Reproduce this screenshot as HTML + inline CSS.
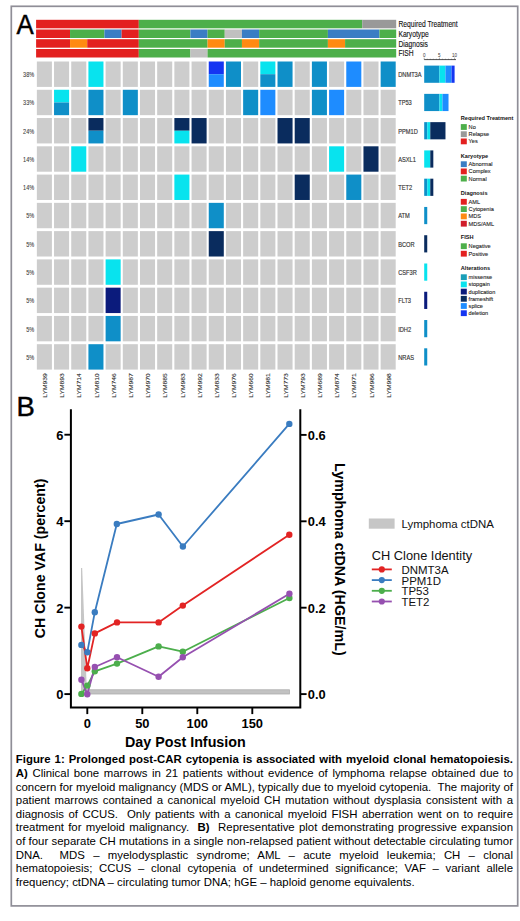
<!DOCTYPE html>
<html><head><meta charset="utf-8"><style>
html,body{margin:0;padding:0;background:#fff;}
body{width:520px;height:921px;position:relative;overflow:hidden;font-family:"Liberation Sans",sans-serif;}
svg{position:absolute;left:0;top:0;}
svg text{font-family:"Liberation Sans",sans-serif;}
.cl{position:absolute;left:15.8px;width:497px;font-size:11.4px;line-height:13px;color:#000;white-space:nowrap;}
</style></head><body>
<svg width="520" height="921" viewBox="0 0 520 921">
<rect x="11.3" y="6.3" width="506.4" height="899.6" fill="none" stroke="#8f8e97" stroke-width="1.7"/>
<text x="16.4" y="34.2" font-size="27.2" fill="#000" stroke="#000" stroke-width="0.45" transform="translate(16.4 0) scale(0.95 1) translate(-16.4 0)">A</text>
<rect x="36.1" y="19.8" width="102.7" height="8.5" fill="#e3201f"/>
<rect x="138.8" y="19.8" width="223.47" height="8.5" fill="#4daf4a"/>
<rect x="362.27" y="19.8" width="33.93" height="8.5" fill="#999999"/>
<text x="398.4" y="27.3" font-size="8.2" fill="#111" stroke="#111" stroke-width="0.12" transform="translate(398.4 0) scale(0.82 1) translate(-398.4 0)">Required Treatment</text>
<rect x="36.1" y="29.5" width="33.94" height="8.5" fill="#e3201f"/>
<rect x="70.04" y="29.5" width="34.38" height="8.5" fill="#4daf4a"/>
<rect x="104.42" y="29.5" width="17.19" height="8.5" fill="#3a7dc4"/>
<rect x="121.61" y="29.5" width="17.19" height="8.5" fill="#e3201f"/>
<rect x="138.8" y="29.5" width="51.57" height="8.5" fill="#4daf4a"/>
<rect x="190.37" y="29.5" width="17.19" height="8.5" fill="#3a7dc4"/>
<rect x="207.56" y="29.5" width="17.19" height="8.5" fill="#4daf4a"/>
<rect x="224.75" y="29.5" width="17.19" height="8.5" fill="#c0c0c0"/>
<rect x="241.94" y="29.5" width="17.19" height="8.5" fill="#3a7dc4"/>
<rect x="259.13" y="29.5" width="68.76" height="8.5" fill="#4daf4a"/>
<rect x="327.89" y="29.5" width="51.57" height="8.5" fill="#3a7dc4"/>
<rect x="379.46" y="29.5" width="16.74" height="8.5" fill="#4daf4a"/>
<text x="398.4" y="37" font-size="8.2" fill="#111" stroke="#111" stroke-width="0.12" transform="translate(398.4 0) scale(0.82 1) translate(-398.4 0)">Karyotype</text>
<rect x="36.1" y="39.2" width="33.94" height="8.5" fill="#e3201f"/>
<rect x="70.04" y="39.2" width="17.19" height="8.5" fill="#ff8a12"/>
<rect x="87.23" y="39.2" width="51.57" height="8.5" fill="#e3201f"/>
<rect x="138.8" y="39.2" width="68.76" height="8.5" fill="#4daf4a"/>
<rect x="207.56" y="39.2" width="17.19" height="8.5" fill="#ff8a12"/>
<rect x="224.75" y="39.2" width="17.19" height="8.5" fill="#4daf4a"/>
<rect x="241.94" y="39.2" width="17.19" height="8.5" fill="#ff8a12"/>
<rect x="259.13" y="39.2" width="68.76" height="8.5" fill="#4daf4a"/>
<rect x="327.89" y="39.2" width="17.19" height="8.5" fill="#ff8a12"/>
<rect x="345.08" y="39.2" width="51.12" height="8.5" fill="#4daf4a"/>
<text x="398.4" y="46.7" font-size="8.2" fill="#111" stroke="#111" stroke-width="0.12" transform="translate(398.4 0) scale(0.82 1) translate(-398.4 0)">Diagnosis</text>
<rect x="36.1" y="49" width="102.7" height="8.5" fill="#e3201f"/>
<rect x="138.8" y="49" width="51.57" height="8.5" fill="#4daf4a"/>
<rect x="190.37" y="49" width="17.19" height="8.5" fill="#c0c0c0"/>
<rect x="207.56" y="49" width="188.64" height="8.5" fill="#4daf4a"/>
<text x="398.4" y="56.5" font-size="8.2" fill="#111" stroke="#111" stroke-width="0.12" transform="translate(398.4 0) scale(0.82 1) translate(-398.4 0)">FISH</text>
<rect x="36.85" y="61.5" width="15.05" height="25.4" fill="#cdcdcd"/>
<rect x="54.04" y="61.5" width="15.05" height="25.4" fill="#cdcdcd"/>
<rect x="71.23" y="61.5" width="15.05" height="25.4" fill="#cdcdcd"/>
<rect x="88.42" y="61.5" width="15.05" height="25.4" fill="#08e3ee"/>
<rect x="105.61" y="61.5" width="15.05" height="25.4" fill="#cdcdcd"/>
<rect x="122.8" y="61.5" width="15.05" height="25.4" fill="#cdcdcd"/>
<rect x="139.99" y="61.5" width="15.05" height="25.4" fill="#cdcdcd"/>
<rect x="157.18" y="61.5" width="15.05" height="25.4" fill="#cdcdcd"/>
<rect x="174.37" y="61.5" width="15.05" height="25.4" fill="#cdcdcd"/>
<rect x="191.56" y="61.5" width="15.05" height="25.4" fill="#cdcdcd"/>
<rect x="208.75" y="61.5" width="15.05" height="12.7" fill="#1535f2"/>
<rect x="208.75" y="74.2" width="15.05" height="12.7" fill="#1e8cff"/>
<rect x="225.94" y="61.5" width="15.05" height="25.4" fill="#0f8fc8"/>
<rect x="243.13" y="61.5" width="15.05" height="25.4" fill="#cdcdcd"/>
<rect x="260.32" y="61.5" width="15.05" height="12.7" fill="#08e3ee"/>
<rect x="260.32" y="74.2" width="15.05" height="12.7" fill="#0f8fc8"/>
<rect x="277.51" y="61.5" width="15.05" height="25.4" fill="#0f8fc8"/>
<rect x="294.7" y="61.5" width="15.05" height="25.4" fill="#cdcdcd"/>
<rect x="311.89" y="61.5" width="15.05" height="25.4" fill="#0f8fc8"/>
<rect x="329.08" y="61.5" width="15.05" height="25.4" fill="#cdcdcd"/>
<rect x="346.27" y="61.5" width="15.05" height="25.4" fill="#1e8cff"/>
<rect x="363.46" y="61.5" width="15.05" height="25.4" fill="#cdcdcd"/>
<rect x="380.65" y="61.5" width="15.05" height="25.4" fill="#0f8fc8"/>
<text x="34.2" y="77.1" font-size="6.7" fill="#3a3a3a" stroke="#3a3a3a" stroke-width="0.08" text-anchor="end" transform="translate(34.2 0) scale(0.83 1) translate(-34.2 0)">38%</text>
<text x="398.2" y="77.1" font-size="6.7" fill="#333" stroke="#333" stroke-width="0.15" transform="translate(398.2 0) scale(0.85 1) translate(-398.2 0)">DNMT3A</text>
<rect x="424.2" y="65.6" width="15.2" height="17.2" fill="#0f8fc8"/>
<rect x="439.4" y="65.6" width="6.08" height="17.2" fill="#08e3ee"/>
<rect x="445.48" y="65.6" width="6.08" height="17.2" fill="#1e8cff"/>
<rect x="451.56" y="65.6" width="3.04" height="17.2" fill="#1535f2"/>
<rect x="36.85" y="89.77" width="15.05" height="25.4" fill="#cdcdcd"/>
<rect x="54.04" y="89.77" width="15.05" height="12.7" fill="#08e3ee"/>
<rect x="54.04" y="102.47" width="15.05" height="12.7" fill="#0f8fc8"/>
<rect x="71.23" y="89.77" width="15.05" height="25.4" fill="#cdcdcd"/>
<rect x="88.42" y="89.77" width="15.05" height="25.4" fill="#0f8fc8"/>
<rect x="105.61" y="89.77" width="15.05" height="25.4" fill="#cdcdcd"/>
<rect x="122.8" y="89.77" width="15.05" height="25.4" fill="#0f8fc8"/>
<rect x="139.99" y="89.77" width="15.05" height="25.4" fill="#cdcdcd"/>
<rect x="157.18" y="89.77" width="15.05" height="25.4" fill="#cdcdcd"/>
<rect x="174.37" y="89.77" width="15.05" height="25.4" fill="#cdcdcd"/>
<rect x="191.56" y="89.77" width="15.05" height="25.4" fill="#cdcdcd"/>
<rect x="208.75" y="89.77" width="15.05" height="25.4" fill="#cdcdcd"/>
<rect x="225.94" y="89.77" width="15.05" height="25.4" fill="#cdcdcd"/>
<rect x="243.13" y="89.77" width="15.05" height="25.4" fill="#0f8fc8"/>
<rect x="260.32" y="89.77" width="15.05" height="25.4" fill="#1e8cff"/>
<rect x="277.51" y="89.77" width="15.05" height="25.4" fill="#cdcdcd"/>
<rect x="294.7" y="89.77" width="15.05" height="25.4" fill="#cdcdcd"/>
<rect x="311.89" y="89.77" width="15.05" height="25.4" fill="#0f8fc8"/>
<rect x="329.08" y="89.77" width="15.05" height="25.4" fill="#1e8cff"/>
<rect x="346.27" y="89.77" width="15.05" height="25.4" fill="#cdcdcd"/>
<rect x="363.46" y="89.77" width="15.05" height="25.4" fill="#cdcdcd"/>
<rect x="380.65" y="89.77" width="15.05" height="25.4" fill="#cdcdcd"/>
<text x="34.2" y="105.37" font-size="6.7" fill="#3a3a3a" stroke="#3a3a3a" stroke-width="0.08" text-anchor="end" transform="translate(34.2 0) scale(0.83 1) translate(-34.2 0)">33%</text>
<text x="398.2" y="105.37" font-size="6.7" fill="#333" stroke="#333" stroke-width="0.15" transform="translate(398.2 0) scale(0.85 1) translate(-398.2 0)">TP53</text>
<rect x="424.2" y="93.87" width="15.2" height="17.2" fill="#0f8fc8"/>
<rect x="439.4" y="93.87" width="3.04" height="17.2" fill="#08e3ee"/>
<rect x="442.44" y="93.87" width="6.08" height="17.2" fill="#1e8cff"/>
<rect x="36.85" y="118.04" width="15.05" height="25.4" fill="#cdcdcd"/>
<rect x="54.04" y="118.04" width="15.05" height="25.4" fill="#cdcdcd"/>
<rect x="71.23" y="118.04" width="15.05" height="25.4" fill="#cdcdcd"/>
<rect x="88.42" y="118.04" width="15.05" height="12.7" fill="#0a2c5e"/>
<rect x="88.42" y="130.74" width="15.05" height="12.7" fill="#0f8fc8"/>
<rect x="105.61" y="118.04" width="15.05" height="25.4" fill="#cdcdcd"/>
<rect x="122.8" y="118.04" width="15.05" height="25.4" fill="#cdcdcd"/>
<rect x="139.99" y="118.04" width="15.05" height="25.4" fill="#cdcdcd"/>
<rect x="157.18" y="118.04" width="15.05" height="25.4" fill="#cdcdcd"/>
<rect x="174.37" y="118.04" width="15.05" height="12.7" fill="#0a2c5e"/>
<rect x="174.37" y="130.74" width="15.05" height="12.7" fill="#08e3ee"/>
<rect x="191.56" y="118.04" width="15.05" height="25.4" fill="#0a2c5e"/>
<rect x="208.75" y="118.04" width="15.05" height="25.4" fill="#cdcdcd"/>
<rect x="225.94" y="118.04" width="15.05" height="25.4" fill="#cdcdcd"/>
<rect x="243.13" y="118.04" width="15.05" height="25.4" fill="#cdcdcd"/>
<rect x="260.32" y="118.04" width="15.05" height="25.4" fill="#cdcdcd"/>
<rect x="277.51" y="118.04" width="15.05" height="25.4" fill="#0a2c5e"/>
<rect x="294.7" y="118.04" width="15.05" height="25.4" fill="#0a2c5e"/>
<rect x="311.89" y="118.04" width="15.05" height="25.4" fill="#cdcdcd"/>
<rect x="329.08" y="118.04" width="15.05" height="25.4" fill="#cdcdcd"/>
<rect x="346.27" y="118.04" width="15.05" height="25.4" fill="#cdcdcd"/>
<rect x="363.46" y="118.04" width="15.05" height="25.4" fill="#cdcdcd"/>
<rect x="380.65" y="118.04" width="15.05" height="25.4" fill="#cdcdcd"/>
<text x="34.2" y="133.64" font-size="6.7" fill="#3a3a3a" stroke="#3a3a3a" stroke-width="0.08" text-anchor="end" transform="translate(34.2 0) scale(0.83 1) translate(-34.2 0)">24%</text>
<text x="398.2" y="133.64" font-size="6.7" fill="#333" stroke="#333" stroke-width="0.15" transform="translate(398.2 0) scale(0.85 1) translate(-398.2 0)">PPM1D</text>
<rect x="424.2" y="122.14" width="3.04" height="17.2" fill="#0f8fc8"/>
<rect x="427.24" y="122.14" width="3.04" height="17.2" fill="#08e3ee"/>
<rect x="430.28" y="122.14" width="15.2" height="17.2" fill="#0a2c5e"/>
<rect x="36.85" y="146.31" width="15.05" height="25.4" fill="#cdcdcd"/>
<rect x="54.04" y="146.31" width="15.05" height="25.4" fill="#cdcdcd"/>
<rect x="71.23" y="146.31" width="15.05" height="25.4" fill="#08e3ee"/>
<rect x="88.42" y="146.31" width="15.05" height="25.4" fill="#cdcdcd"/>
<rect x="105.61" y="146.31" width="15.05" height="25.4" fill="#cdcdcd"/>
<rect x="122.8" y="146.31" width="15.05" height="25.4" fill="#cdcdcd"/>
<rect x="139.99" y="146.31" width="15.05" height="25.4" fill="#cdcdcd"/>
<rect x="157.18" y="146.31" width="15.05" height="25.4" fill="#cdcdcd"/>
<rect x="174.37" y="146.31" width="15.05" height="25.4" fill="#cdcdcd"/>
<rect x="191.56" y="146.31" width="15.05" height="25.4" fill="#cdcdcd"/>
<rect x="208.75" y="146.31" width="15.05" height="25.4" fill="#cdcdcd"/>
<rect x="225.94" y="146.31" width="15.05" height="25.4" fill="#cdcdcd"/>
<rect x="243.13" y="146.31" width="15.05" height="25.4" fill="#cdcdcd"/>
<rect x="260.32" y="146.31" width="15.05" height="25.4" fill="#cdcdcd"/>
<rect x="277.51" y="146.31" width="15.05" height="25.4" fill="#cdcdcd"/>
<rect x="294.7" y="146.31" width="15.05" height="25.4" fill="#cdcdcd"/>
<rect x="311.89" y="146.31" width="15.05" height="25.4" fill="#cdcdcd"/>
<rect x="329.08" y="146.31" width="15.05" height="25.4" fill="#08e3ee"/>
<rect x="346.27" y="146.31" width="15.05" height="25.4" fill="#cdcdcd"/>
<rect x="363.46" y="146.31" width="15.05" height="25.4" fill="#0a2c5e"/>
<rect x="380.65" y="146.31" width="15.05" height="25.4" fill="#cdcdcd"/>
<text x="34.2" y="161.91" font-size="6.7" fill="#3a3a3a" stroke="#3a3a3a" stroke-width="0.08" text-anchor="end" transform="translate(34.2 0) scale(0.83 1) translate(-34.2 0)">14%</text>
<text x="398.2" y="161.91" font-size="6.7" fill="#333" stroke="#333" stroke-width="0.15" transform="translate(398.2 0) scale(0.85 1) translate(-398.2 0)">ASXL1</text>
<rect x="424.2" y="150.41" width="6.08" height="17.2" fill="#08e3ee"/>
<rect x="430.28" y="150.41" width="3.04" height="17.2" fill="#0a2c5e"/>
<rect x="36.85" y="174.58" width="15.05" height="25.4" fill="#cdcdcd"/>
<rect x="54.04" y="174.58" width="15.05" height="25.4" fill="#cdcdcd"/>
<rect x="71.23" y="174.58" width="15.05" height="25.4" fill="#cdcdcd"/>
<rect x="88.42" y="174.58" width="15.05" height="25.4" fill="#cdcdcd"/>
<rect x="105.61" y="174.58" width="15.05" height="25.4" fill="#cdcdcd"/>
<rect x="122.8" y="174.58" width="15.05" height="25.4" fill="#cdcdcd"/>
<rect x="139.99" y="174.58" width="15.05" height="25.4" fill="#cdcdcd"/>
<rect x="157.18" y="174.58" width="15.05" height="25.4" fill="#cdcdcd"/>
<rect x="174.37" y="174.58" width="15.05" height="25.4" fill="#08e3ee"/>
<rect x="191.56" y="174.58" width="15.05" height="25.4" fill="#cdcdcd"/>
<rect x="208.75" y="174.58" width="15.05" height="25.4" fill="#cdcdcd"/>
<rect x="225.94" y="174.58" width="15.05" height="25.4" fill="#cdcdcd"/>
<rect x="243.13" y="174.58" width="15.05" height="25.4" fill="#cdcdcd"/>
<rect x="260.32" y="174.58" width="15.05" height="25.4" fill="#cdcdcd"/>
<rect x="277.51" y="174.58" width="15.05" height="25.4" fill="#cdcdcd"/>
<rect x="294.7" y="174.58" width="15.05" height="25.4" fill="#0a2c5e"/>
<rect x="311.89" y="174.58" width="15.05" height="25.4" fill="#cdcdcd"/>
<rect x="329.08" y="174.58" width="15.05" height="25.4" fill="#cdcdcd"/>
<rect x="346.27" y="174.58" width="15.05" height="25.4" fill="#0f8fc8"/>
<rect x="363.46" y="174.58" width="15.05" height="25.4" fill="#cdcdcd"/>
<rect x="380.65" y="174.58" width="15.05" height="25.4" fill="#cdcdcd"/>
<text x="34.2" y="190.18" font-size="6.7" fill="#3a3a3a" stroke="#3a3a3a" stroke-width="0.08" text-anchor="end" transform="translate(34.2 0) scale(0.83 1) translate(-34.2 0)">14%</text>
<text x="398.2" y="190.18" font-size="6.7" fill="#333" stroke="#333" stroke-width="0.15" transform="translate(398.2 0) scale(0.85 1) translate(-398.2 0)">TET2</text>
<rect x="424.2" y="178.68" width="3.04" height="17.2" fill="#0f8fc8"/>
<rect x="427.24" y="178.68" width="3.04" height="17.2" fill="#08e3ee"/>
<rect x="430.28" y="178.68" width="3.04" height="17.2" fill="#0a2c5e"/>
<rect x="36.85" y="202.85" width="15.05" height="25.4" fill="#cdcdcd"/>
<rect x="54.04" y="202.85" width="15.05" height="25.4" fill="#cdcdcd"/>
<rect x="71.23" y="202.85" width="15.05" height="25.4" fill="#cdcdcd"/>
<rect x="88.42" y="202.85" width="15.05" height="25.4" fill="#cdcdcd"/>
<rect x="105.61" y="202.85" width="15.05" height="25.4" fill="#cdcdcd"/>
<rect x="122.8" y="202.85" width="15.05" height="25.4" fill="#cdcdcd"/>
<rect x="139.99" y="202.85" width="15.05" height="25.4" fill="#cdcdcd"/>
<rect x="157.18" y="202.85" width="15.05" height="25.4" fill="#cdcdcd"/>
<rect x="174.37" y="202.85" width="15.05" height="25.4" fill="#cdcdcd"/>
<rect x="191.56" y="202.85" width="15.05" height="25.4" fill="#cdcdcd"/>
<rect x="208.75" y="202.85" width="15.05" height="25.4" fill="#0f8fc8"/>
<rect x="225.94" y="202.85" width="15.05" height="25.4" fill="#cdcdcd"/>
<rect x="243.13" y="202.85" width="15.05" height="25.4" fill="#cdcdcd"/>
<rect x="260.32" y="202.85" width="15.05" height="25.4" fill="#cdcdcd"/>
<rect x="277.51" y="202.85" width="15.05" height="25.4" fill="#cdcdcd"/>
<rect x="294.7" y="202.85" width="15.05" height="25.4" fill="#cdcdcd"/>
<rect x="311.89" y="202.85" width="15.05" height="25.4" fill="#cdcdcd"/>
<rect x="329.08" y="202.85" width="15.05" height="25.4" fill="#cdcdcd"/>
<rect x="346.27" y="202.85" width="15.05" height="25.4" fill="#cdcdcd"/>
<rect x="363.46" y="202.85" width="15.05" height="25.4" fill="#cdcdcd"/>
<rect x="380.65" y="202.85" width="15.05" height="25.4" fill="#cdcdcd"/>
<text x="34.2" y="218.45" font-size="6.7" fill="#3a3a3a" stroke="#3a3a3a" stroke-width="0.08" text-anchor="end" transform="translate(34.2 0) scale(0.83 1) translate(-34.2 0)">5%</text>
<text x="398.2" y="218.45" font-size="6.7" fill="#333" stroke="#333" stroke-width="0.15" transform="translate(398.2 0) scale(0.85 1) translate(-398.2 0)">ATM</text>
<rect x="424.2" y="206.95" width="3.04" height="17.2" fill="#0f8fc8"/>
<rect x="36.85" y="231.12" width="15.05" height="25.4" fill="#cdcdcd"/>
<rect x="54.04" y="231.12" width="15.05" height="25.4" fill="#cdcdcd"/>
<rect x="71.23" y="231.12" width="15.05" height="25.4" fill="#cdcdcd"/>
<rect x="88.42" y="231.12" width="15.05" height="25.4" fill="#cdcdcd"/>
<rect x="105.61" y="231.12" width="15.05" height="25.4" fill="#cdcdcd"/>
<rect x="122.8" y="231.12" width="15.05" height="25.4" fill="#cdcdcd"/>
<rect x="139.99" y="231.12" width="15.05" height="25.4" fill="#cdcdcd"/>
<rect x="157.18" y="231.12" width="15.05" height="25.4" fill="#cdcdcd"/>
<rect x="174.37" y="231.12" width="15.05" height="25.4" fill="#cdcdcd"/>
<rect x="191.56" y="231.12" width="15.05" height="25.4" fill="#cdcdcd"/>
<rect x="208.75" y="231.12" width="15.05" height="25.4" fill="#0a2c5e"/>
<rect x="225.94" y="231.12" width="15.05" height="25.4" fill="#cdcdcd"/>
<rect x="243.13" y="231.12" width="15.05" height="25.4" fill="#cdcdcd"/>
<rect x="260.32" y="231.12" width="15.05" height="25.4" fill="#cdcdcd"/>
<rect x="277.51" y="231.12" width="15.05" height="25.4" fill="#cdcdcd"/>
<rect x="294.7" y="231.12" width="15.05" height="25.4" fill="#cdcdcd"/>
<rect x="311.89" y="231.12" width="15.05" height="25.4" fill="#cdcdcd"/>
<rect x="329.08" y="231.12" width="15.05" height="25.4" fill="#cdcdcd"/>
<rect x="346.27" y="231.12" width="15.05" height="25.4" fill="#cdcdcd"/>
<rect x="363.46" y="231.12" width="15.05" height="25.4" fill="#cdcdcd"/>
<rect x="380.65" y="231.12" width="15.05" height="25.4" fill="#cdcdcd"/>
<text x="34.2" y="246.72" font-size="6.7" fill="#3a3a3a" stroke="#3a3a3a" stroke-width="0.08" text-anchor="end" transform="translate(34.2 0) scale(0.83 1) translate(-34.2 0)">5%</text>
<text x="398.2" y="246.72" font-size="6.7" fill="#333" stroke="#333" stroke-width="0.15" transform="translate(398.2 0) scale(0.85 1) translate(-398.2 0)">BCOR</text>
<rect x="424.2" y="235.22" width="3.04" height="17.2" fill="#0a2c5e"/>
<rect x="36.85" y="259.39" width="15.05" height="25.4" fill="#cdcdcd"/>
<rect x="54.04" y="259.39" width="15.05" height="25.4" fill="#cdcdcd"/>
<rect x="71.23" y="259.39" width="15.05" height="25.4" fill="#cdcdcd"/>
<rect x="88.42" y="259.39" width="15.05" height="25.4" fill="#cdcdcd"/>
<rect x="105.61" y="259.39" width="15.05" height="25.4" fill="#08e3ee"/>
<rect x="122.8" y="259.39" width="15.05" height="25.4" fill="#cdcdcd"/>
<rect x="139.99" y="259.39" width="15.05" height="25.4" fill="#cdcdcd"/>
<rect x="157.18" y="259.39" width="15.05" height="25.4" fill="#cdcdcd"/>
<rect x="174.37" y="259.39" width="15.05" height="25.4" fill="#cdcdcd"/>
<rect x="191.56" y="259.39" width="15.05" height="25.4" fill="#cdcdcd"/>
<rect x="208.75" y="259.39" width="15.05" height="25.4" fill="#cdcdcd"/>
<rect x="225.94" y="259.39" width="15.05" height="25.4" fill="#cdcdcd"/>
<rect x="243.13" y="259.39" width="15.05" height="25.4" fill="#cdcdcd"/>
<rect x="260.32" y="259.39" width="15.05" height="25.4" fill="#cdcdcd"/>
<rect x="277.51" y="259.39" width="15.05" height="25.4" fill="#cdcdcd"/>
<rect x="294.7" y="259.39" width="15.05" height="25.4" fill="#cdcdcd"/>
<rect x="311.89" y="259.39" width="15.05" height="25.4" fill="#cdcdcd"/>
<rect x="329.08" y="259.39" width="15.05" height="25.4" fill="#cdcdcd"/>
<rect x="346.27" y="259.39" width="15.05" height="25.4" fill="#cdcdcd"/>
<rect x="363.46" y="259.39" width="15.05" height="25.4" fill="#cdcdcd"/>
<rect x="380.65" y="259.39" width="15.05" height="25.4" fill="#cdcdcd"/>
<text x="34.2" y="274.99" font-size="6.7" fill="#3a3a3a" stroke="#3a3a3a" stroke-width="0.08" text-anchor="end" transform="translate(34.2 0) scale(0.83 1) translate(-34.2 0)">5%</text>
<text x="398.2" y="274.99" font-size="6.7" fill="#333" stroke="#333" stroke-width="0.15" transform="translate(398.2 0) scale(0.85 1) translate(-398.2 0)">CSF3R</text>
<rect x="424.2" y="263.49" width="3.04" height="17.2" fill="#08e3ee"/>
<rect x="36.85" y="287.66" width="15.05" height="25.4" fill="#cdcdcd"/>
<rect x="54.04" y="287.66" width="15.05" height="25.4" fill="#cdcdcd"/>
<rect x="71.23" y="287.66" width="15.05" height="25.4" fill="#cdcdcd"/>
<rect x="88.42" y="287.66" width="15.05" height="25.4" fill="#cdcdcd"/>
<rect x="105.61" y="287.66" width="15.05" height="25.4" fill="#0b1b7c"/>
<rect x="122.8" y="287.66" width="15.05" height="25.4" fill="#cdcdcd"/>
<rect x="139.99" y="287.66" width="15.05" height="25.4" fill="#cdcdcd"/>
<rect x="157.18" y="287.66" width="15.05" height="25.4" fill="#cdcdcd"/>
<rect x="174.37" y="287.66" width="15.05" height="25.4" fill="#cdcdcd"/>
<rect x="191.56" y="287.66" width="15.05" height="25.4" fill="#cdcdcd"/>
<rect x="208.75" y="287.66" width="15.05" height="25.4" fill="#cdcdcd"/>
<rect x="225.94" y="287.66" width="15.05" height="25.4" fill="#cdcdcd"/>
<rect x="243.13" y="287.66" width="15.05" height="25.4" fill="#cdcdcd"/>
<rect x="260.32" y="287.66" width="15.05" height="25.4" fill="#cdcdcd"/>
<rect x="277.51" y="287.66" width="15.05" height="25.4" fill="#cdcdcd"/>
<rect x="294.7" y="287.66" width="15.05" height="25.4" fill="#cdcdcd"/>
<rect x="311.89" y="287.66" width="15.05" height="25.4" fill="#cdcdcd"/>
<rect x="329.08" y="287.66" width="15.05" height="25.4" fill="#cdcdcd"/>
<rect x="346.27" y="287.66" width="15.05" height="25.4" fill="#cdcdcd"/>
<rect x="363.46" y="287.66" width="15.05" height="25.4" fill="#cdcdcd"/>
<rect x="380.65" y="287.66" width="15.05" height="25.4" fill="#cdcdcd"/>
<text x="34.2" y="303.26" font-size="6.7" fill="#3a3a3a" stroke="#3a3a3a" stroke-width="0.08" text-anchor="end" transform="translate(34.2 0) scale(0.83 1) translate(-34.2 0)">5%</text>
<text x="398.2" y="303.26" font-size="6.7" fill="#333" stroke="#333" stroke-width="0.15" transform="translate(398.2 0) scale(0.85 1) translate(-398.2 0)">FLT3</text>
<rect x="424.2" y="291.76" width="3.04" height="17.2" fill="#0b1b7c"/>
<rect x="36.85" y="315.93" width="15.05" height="25.4" fill="#cdcdcd"/>
<rect x="54.04" y="315.93" width="15.05" height="25.4" fill="#cdcdcd"/>
<rect x="71.23" y="315.93" width="15.05" height="25.4" fill="#cdcdcd"/>
<rect x="88.42" y="315.93" width="15.05" height="25.4" fill="#cdcdcd"/>
<rect x="105.61" y="315.93" width="15.05" height="25.4" fill="#0f8fc8"/>
<rect x="122.8" y="315.93" width="15.05" height="25.4" fill="#cdcdcd"/>
<rect x="139.99" y="315.93" width="15.05" height="25.4" fill="#cdcdcd"/>
<rect x="157.18" y="315.93" width="15.05" height="25.4" fill="#cdcdcd"/>
<rect x="174.37" y="315.93" width="15.05" height="25.4" fill="#cdcdcd"/>
<rect x="191.56" y="315.93" width="15.05" height="25.4" fill="#cdcdcd"/>
<rect x="208.75" y="315.93" width="15.05" height="25.4" fill="#cdcdcd"/>
<rect x="225.94" y="315.93" width="15.05" height="25.4" fill="#cdcdcd"/>
<rect x="243.13" y="315.93" width="15.05" height="25.4" fill="#cdcdcd"/>
<rect x="260.32" y="315.93" width="15.05" height="25.4" fill="#cdcdcd"/>
<rect x="277.51" y="315.93" width="15.05" height="25.4" fill="#cdcdcd"/>
<rect x="294.7" y="315.93" width="15.05" height="25.4" fill="#cdcdcd"/>
<rect x="311.89" y="315.93" width="15.05" height="25.4" fill="#cdcdcd"/>
<rect x="329.08" y="315.93" width="15.05" height="25.4" fill="#cdcdcd"/>
<rect x="346.27" y="315.93" width="15.05" height="25.4" fill="#cdcdcd"/>
<rect x="363.46" y="315.93" width="15.05" height="25.4" fill="#cdcdcd"/>
<rect x="380.65" y="315.93" width="15.05" height="25.4" fill="#cdcdcd"/>
<text x="34.2" y="331.53" font-size="6.7" fill="#3a3a3a" stroke="#3a3a3a" stroke-width="0.08" text-anchor="end" transform="translate(34.2 0) scale(0.83 1) translate(-34.2 0)">5%</text>
<text x="398.2" y="331.53" font-size="6.7" fill="#333" stroke="#333" stroke-width="0.15" transform="translate(398.2 0) scale(0.85 1) translate(-398.2 0)">IDH2</text>
<rect x="424.2" y="320.03" width="3.04" height="17.2" fill="#0f8fc8"/>
<rect x="36.85" y="344.2" width="15.05" height="25.4" fill="#cdcdcd"/>
<rect x="54.04" y="344.2" width="15.05" height="25.4" fill="#cdcdcd"/>
<rect x="71.23" y="344.2" width="15.05" height="25.4" fill="#cdcdcd"/>
<rect x="88.42" y="344.2" width="15.05" height="25.4" fill="#0f8fc8"/>
<rect x="105.61" y="344.2" width="15.05" height="25.4" fill="#cdcdcd"/>
<rect x="122.8" y="344.2" width="15.05" height="25.4" fill="#cdcdcd"/>
<rect x="139.99" y="344.2" width="15.05" height="25.4" fill="#cdcdcd"/>
<rect x="157.18" y="344.2" width="15.05" height="25.4" fill="#cdcdcd"/>
<rect x="174.37" y="344.2" width="15.05" height="25.4" fill="#cdcdcd"/>
<rect x="191.56" y="344.2" width="15.05" height="25.4" fill="#cdcdcd"/>
<rect x="208.75" y="344.2" width="15.05" height="25.4" fill="#cdcdcd"/>
<rect x="225.94" y="344.2" width="15.05" height="25.4" fill="#cdcdcd"/>
<rect x="243.13" y="344.2" width="15.05" height="25.4" fill="#cdcdcd"/>
<rect x="260.32" y="344.2" width="15.05" height="25.4" fill="#cdcdcd"/>
<rect x="277.51" y="344.2" width="15.05" height="25.4" fill="#cdcdcd"/>
<rect x="294.7" y="344.2" width="15.05" height="25.4" fill="#cdcdcd"/>
<rect x="311.89" y="344.2" width="15.05" height="25.4" fill="#cdcdcd"/>
<rect x="329.08" y="344.2" width="15.05" height="25.4" fill="#cdcdcd"/>
<rect x="346.27" y="344.2" width="15.05" height="25.4" fill="#cdcdcd"/>
<rect x="363.46" y="344.2" width="15.05" height="25.4" fill="#cdcdcd"/>
<rect x="380.65" y="344.2" width="15.05" height="25.4" fill="#cdcdcd"/>
<text x="34.2" y="359.8" font-size="6.7" fill="#3a3a3a" stroke="#3a3a3a" stroke-width="0.08" text-anchor="end" transform="translate(34.2 0) scale(0.83 1) translate(-34.2 0)">5%</text>
<text x="398.2" y="359.8" font-size="6.7" fill="#333" stroke="#333" stroke-width="0.15" transform="translate(398.2 0) scale(0.85 1) translate(-398.2 0)">NRAS</text>
<rect x="424.2" y="348.3" width="3.04" height="17.2" fill="#0f8fc8"/>
<line x1="424.2" y1="59.6" x2="456.0" y2="59.6" stroke="#222" stroke-width="0.8"/>
<line x1="424.2" y1="57.6" x2="424.2" y2="59.6" stroke="#333" stroke-width="0.4"/>
<line x1="427.24" y1="58.7" x2="427.24" y2="59.6" stroke="#333" stroke-width="0.4"/>
<line x1="430.28" y1="58.7" x2="430.28" y2="59.6" stroke="#333" stroke-width="0.4"/>
<line x1="433.32" y1="58.7" x2="433.32" y2="59.6" stroke="#333" stroke-width="0.4"/>
<line x1="436.36" y1="58.7" x2="436.36" y2="59.6" stroke="#333" stroke-width="0.4"/>
<line x1="439.4" y1="57.6" x2="439.4" y2="59.6" stroke="#333" stroke-width="0.4"/>
<line x1="442.44" y1="58.7" x2="442.44" y2="59.6" stroke="#333" stroke-width="0.4"/>
<line x1="445.48" y1="58.7" x2="445.48" y2="59.6" stroke="#333" stroke-width="0.4"/>
<line x1="448.52" y1="58.7" x2="448.52" y2="59.6" stroke="#333" stroke-width="0.4"/>
<line x1="451.56" y1="58.7" x2="451.56" y2="59.6" stroke="#333" stroke-width="0.4"/>
<line x1="454.6" y1="57.6" x2="454.6" y2="59.6" stroke="#333" stroke-width="0.4"/>
<text x="424.2" y="56.6" font-size="4.6" fill="#333" text-anchor="middle">0</text>
<text x="439.4" y="56.6" font-size="4.6" fill="#333" text-anchor="middle">5</text>
<text x="454.6" y="56.6" font-size="4.6" fill="#333" text-anchor="middle">10</text>
<text transform="translate(46.98 373.4) scale(0.93 1) rotate(-90)" font-size="6.7" fill="#222" stroke="#222" stroke-width="0.08" text-anchor="end">LYM939</text>
<text transform="translate(64.17 373.4) scale(0.93 1) rotate(-90)" font-size="6.7" fill="#222" stroke="#222" stroke-width="0.08" text-anchor="end">LYM893</text>
<text transform="translate(81.36 373.4) scale(0.93 1) rotate(-90)" font-size="6.7" fill="#222" stroke="#222" stroke-width="0.08" text-anchor="end">LYM714</text>
<text transform="translate(98.55 373.4) scale(0.93 1) rotate(-90)" font-size="6.7" fill="#222" stroke="#222" stroke-width="0.08" text-anchor="end">LYM810</text>
<text transform="translate(115.74 373.4) scale(0.93 1) rotate(-90)" font-size="6.7" fill="#222" stroke="#222" stroke-width="0.08" text-anchor="end">LYM746</text>
<text transform="translate(132.93 373.4) scale(0.93 1) rotate(-90)" font-size="6.7" fill="#222" stroke="#222" stroke-width="0.08" text-anchor="end">LYM987</text>
<text transform="translate(150.12 373.4) scale(0.93 1) rotate(-90)" font-size="6.7" fill="#222" stroke="#222" stroke-width="0.08" text-anchor="end">LYM970</text>
<text transform="translate(167.31 373.4) scale(0.93 1) rotate(-90)" font-size="6.7" fill="#222" stroke="#222" stroke-width="0.08" text-anchor="end">LYM885</text>
<text transform="translate(184.5 373.4) scale(0.93 1) rotate(-90)" font-size="6.7" fill="#222" stroke="#222" stroke-width="0.08" text-anchor="end">LYM983</text>
<text transform="translate(201.69 373.4) scale(0.93 1) rotate(-90)" font-size="6.7" fill="#222" stroke="#222" stroke-width="0.08" text-anchor="end">LYM992</text>
<text transform="translate(218.88 373.4) scale(0.93 1) rotate(-90)" font-size="6.7" fill="#222" stroke="#222" stroke-width="0.08" text-anchor="end">LYM833</text>
<text transform="translate(236.06 373.4) scale(0.93 1) rotate(-90)" font-size="6.7" fill="#222" stroke="#222" stroke-width="0.08" text-anchor="end">LYM976</text>
<text transform="translate(253.26 373.4) scale(0.93 1) rotate(-90)" font-size="6.7" fill="#222" stroke="#222" stroke-width="0.08" text-anchor="end">LYM660</text>
<text transform="translate(270.45 373.4) scale(0.93 1) rotate(-90)" font-size="6.7" fill="#222" stroke="#222" stroke-width="0.08" text-anchor="end">LYM981</text>
<text transform="translate(287.64 373.4) scale(0.93 1) rotate(-90)" font-size="6.7" fill="#222" stroke="#222" stroke-width="0.08" text-anchor="end">LYM773</text>
<text transform="translate(304.83 373.4) scale(0.93 1) rotate(-90)" font-size="6.7" fill="#222" stroke="#222" stroke-width="0.08" text-anchor="end">LYM793</text>
<text transform="translate(322.02 373.4) scale(0.93 1) rotate(-90)" font-size="6.7" fill="#222" stroke="#222" stroke-width="0.08" text-anchor="end">LYM689</text>
<text transform="translate(339.21 373.4) scale(0.93 1) rotate(-90)" font-size="6.7" fill="#222" stroke="#222" stroke-width="0.08" text-anchor="end">LYM874</text>
<text transform="translate(356.4 373.4) scale(0.93 1) rotate(-90)" font-size="6.7" fill="#222" stroke="#222" stroke-width="0.08" text-anchor="end">LYM971</text>
<text transform="translate(373.59 373.4) scale(0.93 1) rotate(-90)" font-size="6.7" fill="#222" stroke="#222" stroke-width="0.08" text-anchor="end">LYM986</text>
<text transform="translate(390.78 373.4) scale(0.93 1) rotate(-90)" font-size="6.7" fill="#222" stroke="#222" stroke-width="0.08" text-anchor="end">LYM998</text>
<text x="460.8" y="119.6" font-size="5.6" font-weight="bold" fill="#111">Required Treatment</text>
<rect x="460.8" y="124.1" width="6" height="5.8" fill="#4daf4a"/>
<text x="468.6" y="129" font-size="5.6" fill="#222" stroke="#222" stroke-width="0.1">No</text>
<rect x="460.8" y="131.3" width="6" height="5.8" fill="#999999"/>
<text x="468.6" y="136.2" font-size="5.6" fill="#222" stroke="#222" stroke-width="0.1">Relapse</text>
<rect x="460.8" y="138.5" width="6" height="5.8" fill="#e3201f"/>
<text x="468.6" y="143.4" font-size="5.6" fill="#222" stroke="#222" stroke-width="0.1">Yes</text>
<text x="460.8" y="158.2" font-size="5.6" font-weight="bold" fill="#111">Karyotype</text>
<rect x="460.8" y="161.3" width="6" height="5.8" fill="#3a7dc4"/>
<text x="468.6" y="166.2" font-size="5.6" fill="#222" stroke="#222" stroke-width="0.1">Abnormal</text>
<rect x="460.8" y="168.5" width="6" height="5.8" fill="#e3201f"/>
<text x="468.6" y="173.4" font-size="5.6" fill="#222" stroke="#222" stroke-width="0.1">Complex</text>
<rect x="460.8" y="175.7" width="6" height="5.8" fill="#4daf4a"/>
<text x="468.6" y="180.6" font-size="5.6" fill="#222" stroke="#222" stroke-width="0.1">Normal</text>
<text x="460.8" y="195.1" font-size="5.6" font-weight="bold" fill="#111">Diagnosis</text>
<rect x="460.8" y="198.9" width="6" height="5.8" fill="#e3201f"/>
<text x="468.6" y="203.8" font-size="5.6" fill="#222" stroke="#222" stroke-width="0.1">AML</text>
<rect x="460.8" y="206.2" width="6" height="5.8" fill="#4daf4a"/>
<text x="468.6" y="211.1" font-size="5.6" fill="#222" stroke="#222" stroke-width="0.1">Cytopenia</text>
<rect x="460.8" y="213.5" width="6" height="5.8" fill="#ff8a12"/>
<text x="468.6" y="218.4" font-size="5.6" fill="#222" stroke="#222" stroke-width="0.1">MDS</text>
<rect x="460.8" y="220.8" width="6" height="5.8" fill="#d01c2a"/>
<text x="468.6" y="225.7" font-size="5.6" fill="#222" stroke="#222" stroke-width="0.1">MDS/AML</text>
<text x="460.8" y="239.4" font-size="5.6" font-weight="bold" fill="#111">FISH</text>
<rect x="460.8" y="243.3" width="6" height="5.8" fill="#4daf4a"/>
<text x="468.6" y="248.2" font-size="5.6" fill="#222" stroke="#222" stroke-width="0.1">Negative</text>
<rect x="460.8" y="250.8" width="6" height="5.8" fill="#e3201f"/>
<text x="468.6" y="255.7" font-size="5.6" fill="#222" stroke="#222" stroke-width="0.1">Positive</text>
<text x="460.8" y="270.2" font-size="5.6" font-weight="bold" fill="#111">Alterations</text>
<rect x="460.8" y="274.3" width="6" height="5.8" fill="#1a9fb8"/>
<text x="468.6" y="279.2" font-size="5.6" fill="#222" stroke="#222" stroke-width="0.1">missense</text>
<rect x="460.8" y="281.5" width="6" height="5.8" fill="#08e3ee"/>
<text x="468.6" y="286.4" font-size="5.6" fill="#222" stroke="#222" stroke-width="0.1">stopgain</text>
<rect x="460.8" y="288.7" width="6" height="5.8" fill="#0b1b7c"/>
<text x="468.6" y="293.6" font-size="5.6" fill="#222" stroke="#222" stroke-width="0.1">duplication</text>
<rect x="460.8" y="295.9" width="6" height="5.8" fill="#0a2c5e"/>
<text x="468.6" y="300.8" font-size="5.6" fill="#222" stroke="#222" stroke-width="0.1">frameshift</text>
<rect x="460.8" y="303.1" width="6" height="5.8" fill="#1e8cff"/>
<text x="468.6" y="308" font-size="5.6" fill="#222" stroke="#222" stroke-width="0.1">splice</text>
<rect x="460.8" y="310.3" width="6" height="5.8" fill="#1535f2"/>
<text x="468.6" y="315.2" font-size="5.6" fill="#222" stroke="#222" stroke-width="0.1">deletion</text>
<text x="16.6" y="416.1" font-size="27.4" fill="#000" stroke="#000" stroke-width="0.45">B</text>
<polygon points="81.0,568 82.2,568 86.8,689.6 86.8,694.4 81.0,694.4" fill="#c6c6c6"/>
<rect x="86.4" y="689.8" width="203.0" height="4.2" fill="#c2c2c2" stroke="#adadad" stroke-width="0.8"/>
<polyline points="81.4,644.9 87.3,652.2 94.8,612.2 116.8,524 158.6,514.5 182.9,546.5 289.3,423.9" fill="none" stroke="#3a7cc0" stroke-width="1.8" stroke-linejoin="round"/>
<polyline points="81.4,626.6 87.3,668.2 94.8,633.4 117,622.4 158.6,622.4 182.8,605.6 289.3,534.7" fill="none" stroke="#e22424" stroke-width="1.8" stroke-linejoin="round"/>
<polyline points="81.4,693.9 87.3,685.6 94.8,671.3 117,663.6 158.6,646.4 182.8,651.7 289.4,598" fill="none" stroke="#4cae4c" stroke-width="1.8" stroke-linejoin="round"/>
<polyline points="81.4,679.7 87.3,694.3 94.8,667 117,657.3 158.6,676.7 182.8,657.3 289.4,593.8" fill="none" stroke="#9650b0" stroke-width="1.8" stroke-linejoin="round"/>
<circle cx="81.4" cy="644.9" r="3.2" fill="#3a7cc0"/>
<circle cx="87.3" cy="652.2" r="3.2" fill="#3a7cc0"/>
<circle cx="94.8" cy="612.2" r="3.2" fill="#3a7cc0"/>
<circle cx="116.8" cy="524" r="3.2" fill="#3a7cc0"/>
<circle cx="158.6" cy="514.5" r="3.2" fill="#3a7cc0"/>
<circle cx="182.9" cy="546.5" r="3.2" fill="#3a7cc0"/>
<circle cx="289.3" cy="423.9" r="3.2" fill="#3a7cc0"/>
<circle cx="81.4" cy="626.6" r="3.2" fill="#e22424"/>
<circle cx="87.3" cy="668.2" r="3.2" fill="#e22424"/>
<circle cx="94.8" cy="633.4" r="3.2" fill="#e22424"/>
<circle cx="117" cy="622.4" r="3.2" fill="#e22424"/>
<circle cx="158.6" cy="622.4" r="3.2" fill="#e22424"/>
<circle cx="182.8" cy="605.6" r="3.2" fill="#e22424"/>
<circle cx="289.3" cy="534.7" r="3.2" fill="#e22424"/>
<circle cx="81.4" cy="693.9" r="3.2" fill="#4cae4c"/>
<circle cx="87.3" cy="685.6" r="3.2" fill="#4cae4c"/>
<circle cx="94.8" cy="671.3" r="3.2" fill="#4cae4c"/>
<circle cx="117" cy="663.6" r="3.2" fill="#4cae4c"/>
<circle cx="158.6" cy="646.4" r="3.2" fill="#4cae4c"/>
<circle cx="182.8" cy="651.7" r="3.2" fill="#4cae4c"/>
<circle cx="289.4" cy="598" r="3.2" fill="#4cae4c"/>
<circle cx="81.4" cy="679.7" r="3.2" fill="#9650b0"/>
<circle cx="87.3" cy="694.3" r="3.2" fill="#9650b0"/>
<circle cx="94.8" cy="667" r="3.2" fill="#9650b0"/>
<circle cx="117" cy="657.3" r="3.2" fill="#9650b0"/>
<circle cx="158.6" cy="676.7" r="3.2" fill="#9650b0"/>
<circle cx="182.8" cy="657.3" r="3.2" fill="#9650b0"/>
<circle cx="289.4" cy="593.8" r="3.2" fill="#9650b0"/>
<path d="M70.9,409.2 V707.5 H300.3 V409.2" fill="none" stroke="#000" stroke-width="2.0"/>
<line x1="64.4" y1="694.1" x2="70.9" y2="694.1" stroke="#000" stroke-width="1.9"/>
<text x="63.300000000000004" y="699.1" font-size="12.9" font-weight="bold" text-anchor="end">0</text>
<line x1="64.4" y1="607.64" x2="70.9" y2="607.64" stroke="#000" stroke-width="1.9"/>
<text x="63.300000000000004" y="612.64" font-size="12.9" font-weight="bold" text-anchor="end">2</text>
<line x1="64.4" y1="521.18" x2="70.9" y2="521.18" stroke="#000" stroke-width="1.9"/>
<text x="63.300000000000004" y="526.18" font-size="12.9" font-weight="bold" text-anchor="end">4</text>
<line x1="64.4" y1="434.72" x2="70.9" y2="434.72" stroke="#000" stroke-width="1.9"/>
<text x="63.300000000000004" y="439.72" font-size="12.9" font-weight="bold" text-anchor="end">6</text>
<line x1="300.3" y1="694.1" x2="306.6" y2="694.1" stroke="#000" stroke-width="1.9"/>
<text x="307.8" y="699.1" font-size="12.9" font-weight="bold">0.0</text>
<line x1="300.3" y1="607.7" x2="306.6" y2="607.7" stroke="#000" stroke-width="1.9"/>
<text x="307.8" y="612.7" font-size="12.9" font-weight="bold">0.2</text>
<line x1="300.3" y1="521.3" x2="306.6" y2="521.3" stroke="#000" stroke-width="1.9"/>
<text x="307.8" y="526.3" font-size="12.9" font-weight="bold">0.4</text>
<line x1="300.3" y1="434.9" x2="306.6" y2="434.9" stroke="#000" stroke-width="1.9"/>
<text x="307.8" y="439.9" font-size="12.9" font-weight="bold">0.6</text>
<line x1="87.3" y1="707.5" x2="87.3" y2="714.1" stroke="#000" stroke-width="1.9"/>
<text x="87.3" y="728.0" font-size="12.9" font-weight="bold" text-anchor="middle">0</text>
<line x1="142.3" y1="707.5" x2="142.3" y2="714.1" stroke="#000" stroke-width="1.9"/>
<text x="142.3" y="728.0" font-size="12.9" font-weight="bold" text-anchor="middle">50</text>
<line x1="197.3" y1="707.5" x2="197.3" y2="714.1" stroke="#000" stroke-width="1.9"/>
<text x="197.3" y="728.0" font-size="12.9" font-weight="bold" text-anchor="middle">100</text>
<line x1="252.3" y1="707.5" x2="252.3" y2="714.1" stroke="#000" stroke-width="1.9"/>
<text x="252.3" y="728.0" font-size="12.9" font-weight="bold" text-anchor="middle">150</text>
<text x="185.4" y="747.4" font-size="14.3" font-weight="bold" text-anchor="middle">Day Post Infusion</text>
<text transform="translate(44.5 558.4) rotate(-90)" font-size="14.2" font-weight="bold" text-anchor="middle">CH Clone VAF (percent)</text>
<text transform="translate(335.2 559.4) rotate(90)" font-size="14.3" font-weight="bold" text-anchor="middle">Lymphoma ctDNA (HGE/mL)</text>
<rect x="368.8" y="518.5" width="25.8" height="10.2" fill="#c6c6c6"/>
<text x="401.5" y="527.9" font-size="11.45" fill="#111">Lymphoma ctDNA</text>
<text x="371.8" y="560.3" font-size="12.8" fill="#111">CH Clone Identity</text>
<line x1="371.8" y1="569.4" x2="391.8" y2="569.4" stroke="#e22424" stroke-width="1.8"/>
<circle cx="381.8" cy="569.4" r="3.1" fill="#e22424"/>
<text x="401.5" y="573.8" font-size="11.45" fill="#111">DNMT3A</text>
<line x1="371.8" y1="580.1" x2="391.8" y2="580.1" stroke="#3a7cc0" stroke-width="1.8"/>
<circle cx="381.8" cy="580.1" r="3.1" fill="#3a7cc0"/>
<text x="401.5" y="584.5" font-size="11.45" fill="#111">PPM1D</text>
<line x1="371.8" y1="590.8" x2="391.8" y2="590.8" stroke="#4cae4c" stroke-width="1.8"/>
<circle cx="381.8" cy="590.8" r="3.1" fill="#4cae4c"/>
<text x="401.5" y="595.2" font-size="11.45" fill="#111">TP53</text>
<line x1="371.8" y1="601.5" x2="391.8" y2="601.5" stroke="#9650b0" stroke-width="1.8"/>
<circle cx="381.8" cy="601.5" r="3.1" fill="#9650b0"/>
<text x="401.5" y="605.9" font-size="11.45" fill="#111">TET2</text>
</svg>
<div class="cl" style="top:753.35px;word-spacing:0.857px"><b>Figure 1: Prolonged post-CAR cytopenia is associated with myeloid clonal hematopoiesis.</b></div>
<div class="cl" style="top:766.96px;word-spacing:1.457px"><b>A)</b> Clinical bone marrows in 21 patients without evidence of lymphoma relapse obtained due to</div>
<div class="cl" style="top:780.57px;word-spacing:0.072px">concern for myeloid malignancy (MDS or AML), typically due to myeloid cytopenia.&nbsp; The majority of</div>
<div class="cl" style="top:794.18px;word-spacing:1.386px">patient marrows contained a canonical myeloid CH mutation without dysplasia consistent with a</div>
<div class="cl" style="top:807.79px;word-spacing:1.363px">diagnosis of CCUS.&nbsp; Only patients with a canonical myeloid FISH aberration went on to require</div>
<div class="cl" style="top:821.4px;word-spacing:1.071px">treatment for myeloid malignancy.&nbsp; <b>B)</b>&nbsp; Representative plot demonstrating progressive expansion</div>
<div class="cl" style="top:835.01px;word-spacing:0.158px">of four separate CH mutations in a single non-relapsed patient without detectable circulating tumor</div>
<div class="cl" style="top:848.62px;word-spacing:5.115px">DNA.&nbsp; MDS &ndash; myelodysplastic syndrome; AML &ndash; acute myeloid leukemia; CH &ndash; clonal</div>
<div class="cl" style="top:862.23px;word-spacing:3.488px">hematopoiesis; CCUS &ndash; clonal cytopenia of undetermined significance; VAF &ndash; variant allele</div>
<div class="cl" style="top:875.84px">frequency; ctDNA &ndash; circulating tumor DNA; hGE &ndash; haploid genome equivalents.</div>
</body></html>
